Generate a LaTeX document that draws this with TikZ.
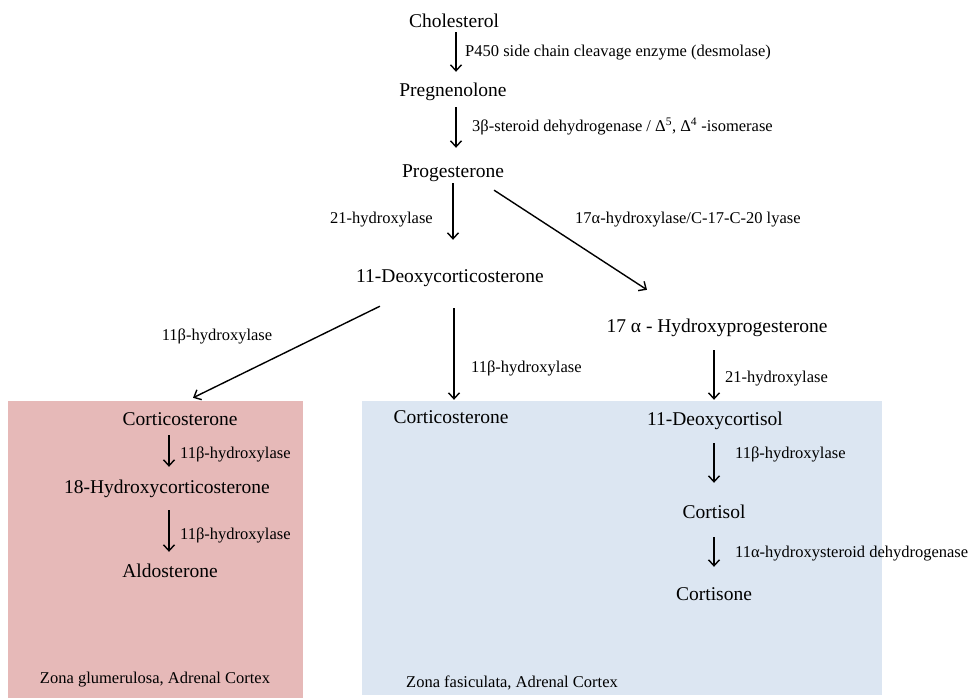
\documentclass[tikz,border=0pt]{standalone}
\usepackage{fontspec}
\setmainfont{Liberation Serif}
\usetikzlibrary{arrows.meta}
\definecolor{glomPink}{HTML}{E6B9B8}
\definecolor{fascBlue}{HTML}{DCE6F2}
\begin{document}
\begin{tikzpicture}[x=1pt,y=-1pt,
        steroid/.style={anchor=base,inner sep=0pt,text height=13pt,text depth=4pt,font=\fontsize{19.5}{23}\selectfont},
        enzyme/.style={anchor=base west,inner sep=0pt,font=\fontsize{16.5}{20}\selectfont},
        conv/.style={line width=1.4pt,-{Straight Barb[length=6pt,width=11pt]}}]
        \useasboundingbox (0,0) rectangle (972,698);
        %% Zones of the adrenal cortex
        \fill[glomPink] (8,401) rectangle (303,698);
        \fill[fascBlue] (362,401) rectangle (882,695);
        \node[enzyme,anchor=base] (zoneG) at (155,683) {Zona glumerulosa, Adrenal Cortex};
        \node[enzyme,anchor=base] (zoneF) at (512,687) {Zona fasiculata, Adrenal Cortex};
        %% Common trunk
        \node[steroid] (chol) at (454,28) {Cholesterol};
        \node[steroid] (preg) at (453,97) {Pregnenolone};
        \node[steroid] (prog) at (453,178) {Progesterone};
        \node[steroid] (doc) at (450,282) {11-Deoxycorticosterone};
        \node[steroid] (ohp) at (717,332) {17 α - Hydroxyprogesterone};
        %% Zona glomerulosa
        \node[steroid] (corticoG) at (180,425) {Corticosterone};
        \node[steroid] (hcort) at (167,493) {18-Hydroxycorticosterone};
        \node[steroid] (aldo) at (170,577) {Aldosterone};
        %% Zona fasciculata
        \node[steroid] (corticoF) at (451,423) {Corticosterone};
        \node[steroid] (dcort) at (715,425) {11-Deoxycortisol};
        \node[steroid] (cortisol) at (714,518) {Cortisol};
        \node[steroid] (cortisone) at (714,600) {Cortisone};
        %% Enzymes
        \node[enzyme] (scc) at (465,57) {P450 side chain cleavage enzyme (desmolase)};
        \node[enzyme] (hsd) at (472,132) {3β-steroid dehydrogenase / Δ\textsuperscript{5}, Δ\textsuperscript{4} -isomerase};
        \node[enzyme,anchor=base east] (hydA) at (433,223) {21-hydroxylase};
        \node[enzyme] (lyase) at (575,223) {17α-hydroxylase/C-17-C-20 lyase};
        \node[enzyme,anchor=base] (hydB) at (217,340) {11β-hydroxylase};
        \node[enzyme] (hydC) at (471,372) {11β-hydroxylase};
        \node[enzyme] (hydD) at (725,382) {21-hydroxylase};
        \node[enzyme] (hydE) at (180,458) {11β-hydroxylase};
        \node[enzyme] (hydF) at (180,539) {11β-hydroxylase};
        \node[enzyme] (hydG) at (735,458) {11β-hydroxylase};
        \node[enzyme] (hsdB) at (735,557) {11α-hydroxysteroid dehydrogenase};
        %% Conversions
        \draw[conv,shorten >=12pt] ([xshift=2pt]chol.south) -- ([xshift=2pt]chol.south |- preg.north);
        \draw[conv,shorten <=6pt,shorten >=17pt] ([xshift=3pt]preg.south) -- ([xshift=3pt]preg.south |- prog.north);
        \draw[conv,shorten <=1pt,shorten >=29pt] (prog.south) -- (prog.south |- doc.north);
        \draw[conv] ([xshift=-10pt,yshift=-8pt]prog.south east) -- ([xshift=-70pt,yshift=29pt]ohp.north);
        \draw[conv] ([xshift=24pt,yshift=-20pt]doc.south west) -- ([xshift=13pt,yshift=14pt]corticoG.north);
        \draw[conv,shorten <=22pt,shorten >=10pt] ([xshift=4pt]doc.south) -- ([xshift=4pt]doc.south |- corticoF.north);
        \draw[conv,shorten <=14pt,shorten >=12pt] ([xshift=-3pt]ohp.south) -- ([xshift=-3pt]ohp.south |- dcort.north);
        \draw[conv,shorten <=6pt,shorten >=13pt] ([xshift=-11pt]corticoG.south) -- ([xshift=-11pt]corticoG.south |- hcort.north);
        \draw[conv,shorten <=13pt,shorten >=12pt] ([xshift=2pt]hcort.south) -- ([xshift=2pt]hcort.south |- aldo.north);
        \draw[conv,shorten <=14pt,shorten >=22pt] ([xshift=-1pt]dcort.south) -- ([xshift=-1pt]dcort.south |- cortisol.north);
        \draw[conv,shorten <=15pt,shorten >=20pt] (cortisol.south) -- (cortisol.south |- cortisone.north);
\end{tikzpicture}
\end{document}
